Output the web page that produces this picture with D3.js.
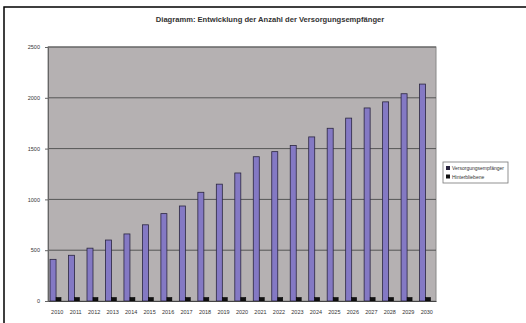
<!DOCTYPE html>
<html><head><meta charset="utf-8">
<script src="https://cdn.jsdelivr.net/npm/d3@7"></script>
<style>body{margin:0;background:#fff}svg{display:block;font-family:"Liberation Sans",Arial,sans-serif}</style>
</head><body><svg id="c" width="526" height="323"></svg>
<script>
const titleText = "Diagramm: Entwicklung der Anzahl der Versorgungsempfänger";
const years = ["2010","2011","2012","2013","2014","2015","2016","2017","2018","2019","2020","2021","2022","2023","2024","2025","2026","2027","2028","2029","2030"];
const seriesNames = ["Versorgungsempfänger","Hinterbliebene"];
const seriesA = [410,450,520,600,660,750,860,935,1070,1150,1260,1420,1470,1530,1615,1700,1800,1900,1960,2040,2135];
const seriesB = [35,35,35,35,35,35,35,35,35,35,35,35,35,35,35,35,35,35,35,35,35];
const yTicks = [0,500,1000,1500,2000,2500];

const svg = d3.select("#c");
svg.append("rect").attr("x",4).attr("y",7).attr("width",540).attr("height",330)
  .attr("fill","#fff").attr("stroke","#000").attr("stroke-width",1.5);

const m = {l:48, r:436, t:47, b:301};
const x = d3.scaleBand().domain(years).range([m.l,m.r]).paddingInner(0).paddingOuter(0);
const y = d3.scaleLinear().domain([0,2500]).range([m.b,m.t]);

svg.append("text").attr("x",270).attr("y",22).attr("text-anchor","middle")
  .attr("font-size",7.6).attr("font-weight","bold").attr("fill","#333").text(titleText);

svg.append("rect").attr("x",m.l).attr("y",m.t).attr("width",m.r-m.l).attr("height",m.b-m.t)
  .attr("fill","#b5b1b2").attr("stroke","#888");

svg.append("g").selectAll("line").data(yTicks.slice(1)).join("line")
  .attr("x1",m.l).attr("x2",m.r).attr("y1",d=>y(d)).attr("y2",d=>y(d))
  .attr("stroke","#555").attr("stroke-width",1);

const yAxis = svg.append("g").attr("transform",`translate(${m.l},0)`)
  .call(d3.axisLeft(y).tickValues(yTicks).tickFormat(d3.format("d")).tickSize(3).tickPadding(5));
yAxis.selectAll("text").attr("font-size",5.5).attr("fill","#333");
yAxis.selectAll("line,path").attr("stroke","#666");

const bw = x.bandwidth();
svg.append("g").selectAll("rect").data(seriesA).join("rect")
  .attr("x",(d,i)=>x(years[i])+bw*0.3-3.5).attr("width",6)
  .attr("y",d=>y(d)).attr("height",d=>m.b-y(d))
  .attr("fill","#8479c4").attr("stroke","#2a2540").attr("stroke-width",0.8);
svg.append("g").selectAll("rect").data(seriesB).join("rect")
  .attr("x",(d,i)=>x(years[i])+bw*0.3+2.5).attr("width",5)
  .attr("y",d=>y(d)).attr("height",d=>m.b-y(d))
  .attr("fill","#111").attr("stroke","#000").attr("stroke-width",0.5);

const xAxis = svg.append("g").attr("transform",`translate(0,${m.b})`)
  .call(d3.axisBottom(x).tickSize(0).tickPadding(9));
xAxis.selectAll("text").attr("font-size",5.5).attr("fill","#333");
xAxis.select("path").attr("stroke","#444");

const lg = svg.append("g").attr("transform","translate(443,162)");
lg.append("rect").attr("width",65).attr("height",21).attr("fill","#fff").attr("stroke","#777").attr("stroke-width",0.8);
const cols = ["#2a2540","#111"];
seriesNames.forEach((n,i)=>{
  lg.append("rect").attr("x",3).attr("y",4+i*8.5).attr("width",4).attr("height",4).attr("fill",cols[i]);
  lg.append("text").attr("x",9).attr("y",8+i*8.5).attr("font-size",5).attr("fill","#333").text(n);
});
</script></body></html>
